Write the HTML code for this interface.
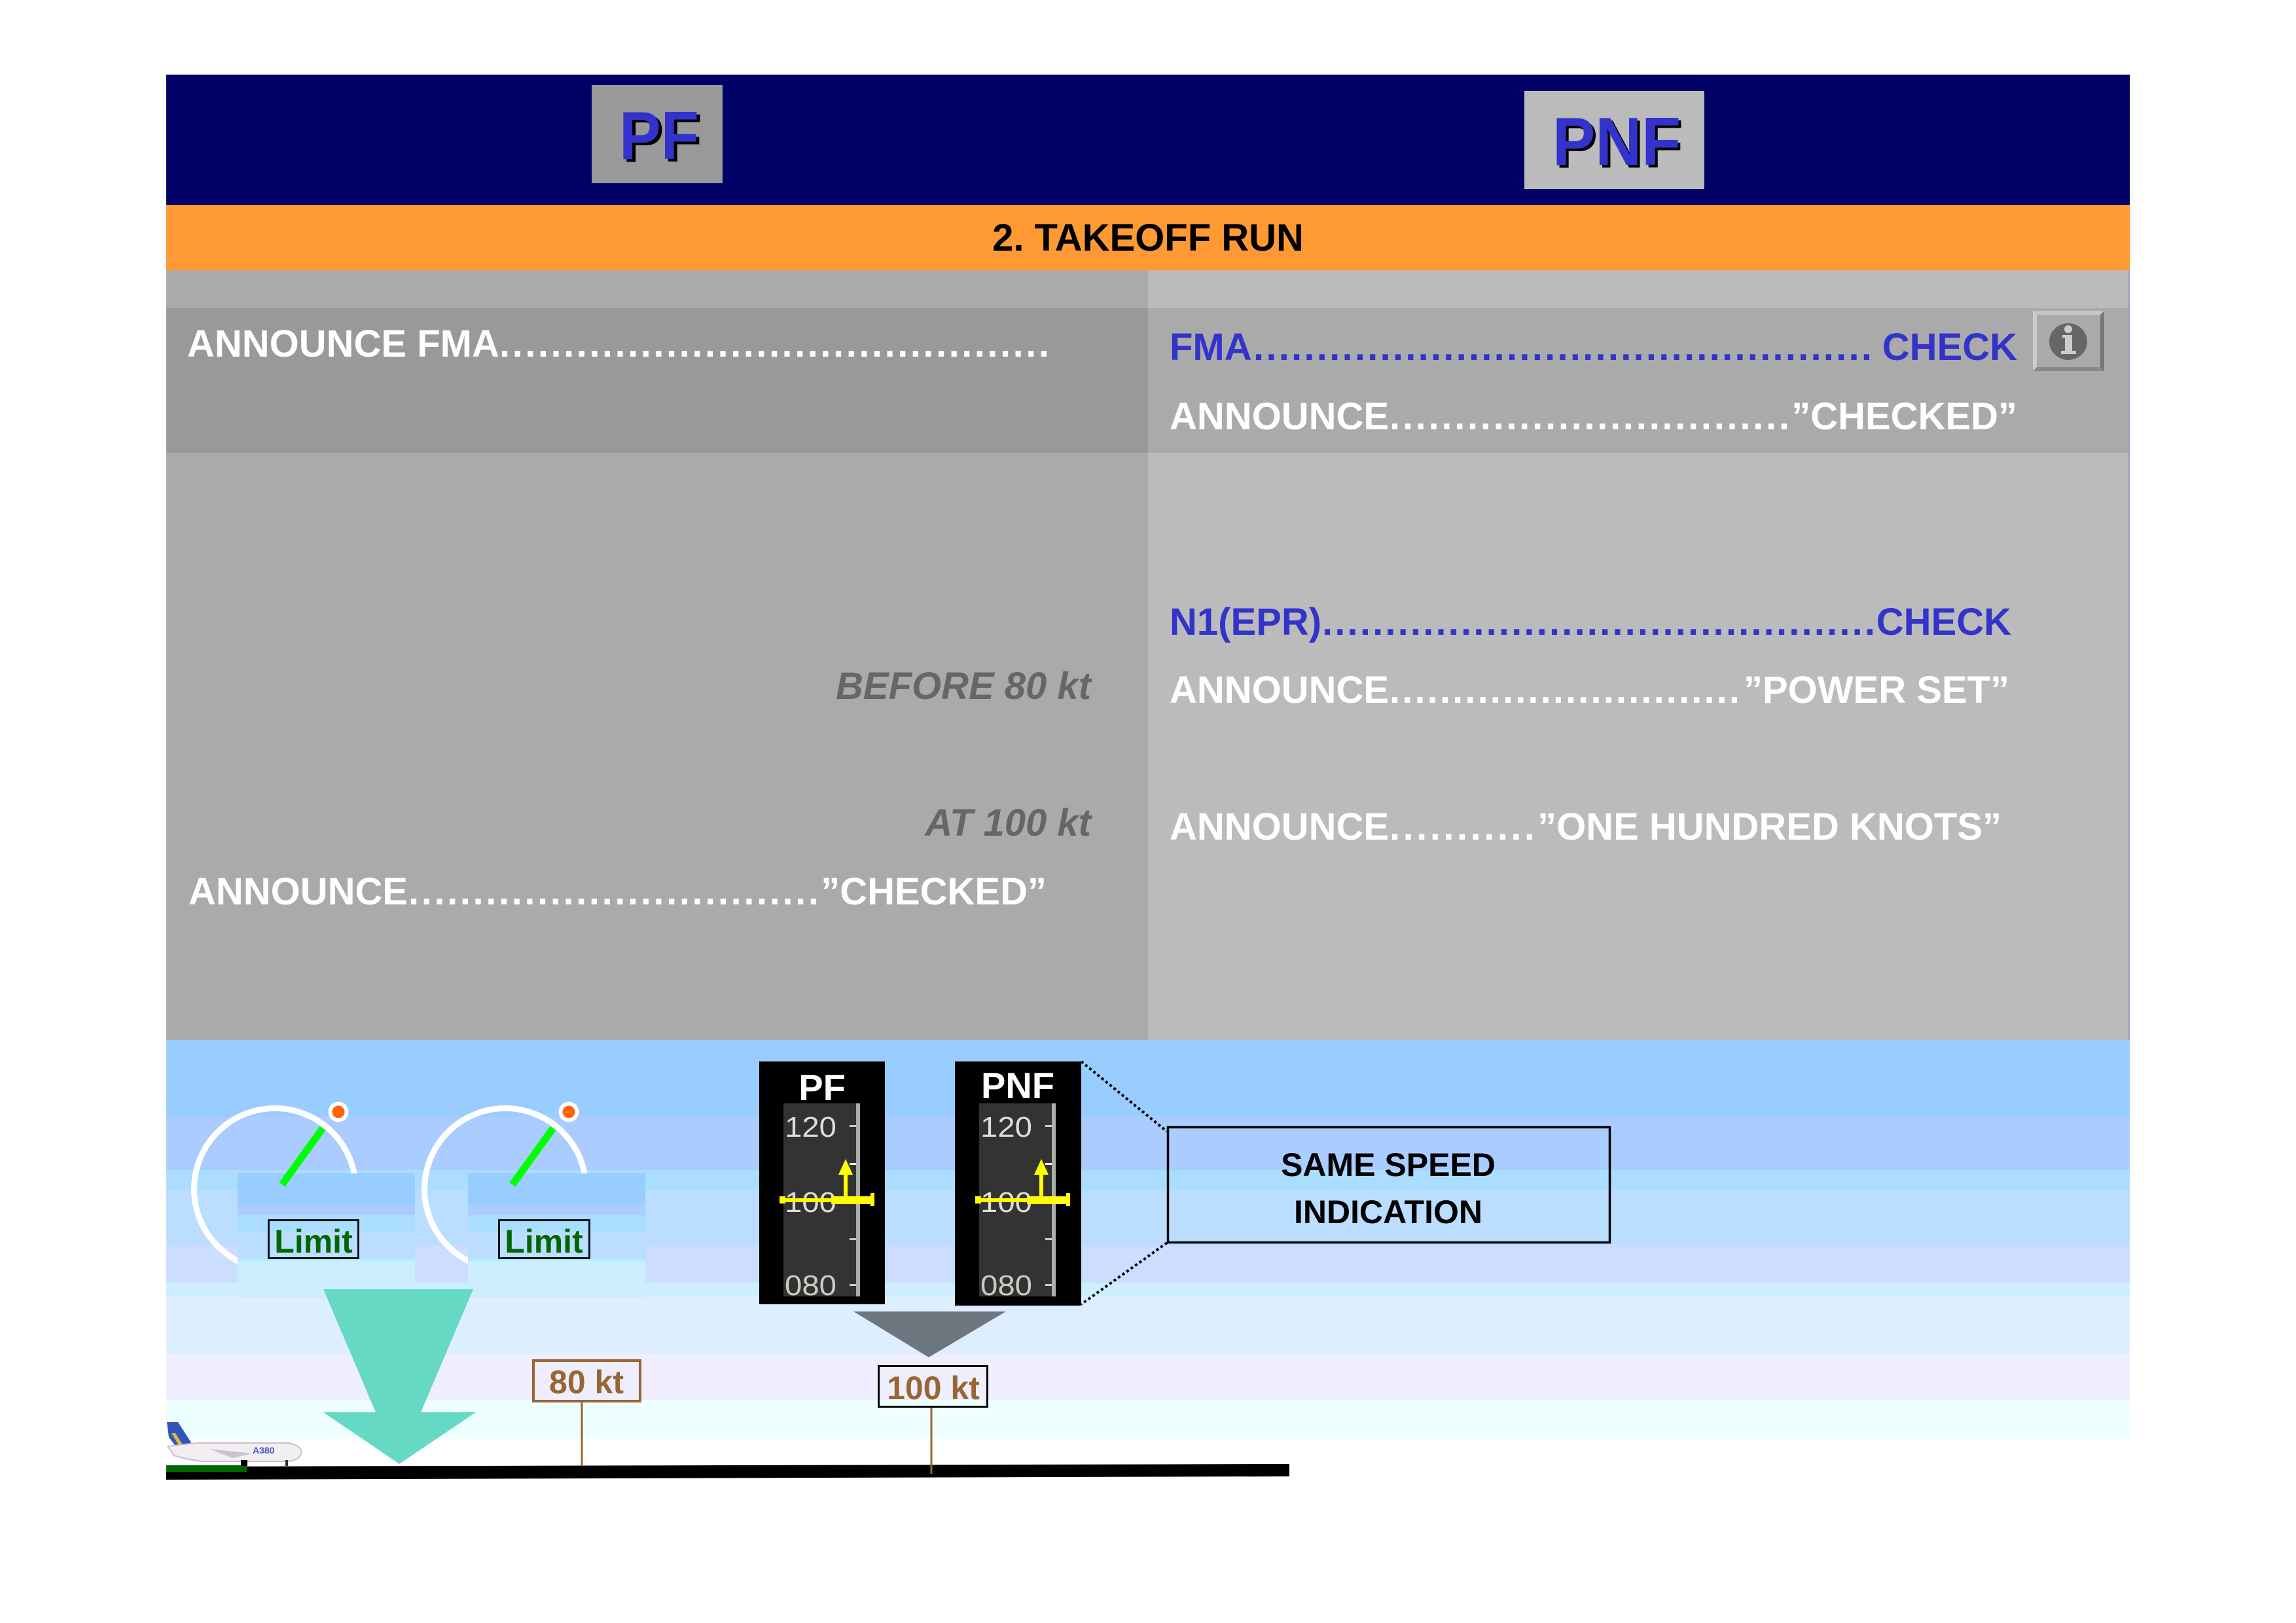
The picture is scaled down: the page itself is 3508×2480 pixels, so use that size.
<!DOCTYPE html>
<html>
<head>
<meta charset="utf-8">
<style>
  html, body { margin: 0; padding: 0; background: #ffffff; }
  body { width: 3508px; height: 2480px; overflow: hidden; }
  svg { display: block; }
  text { font-family: "Liberation Sans", Arial, sans-serif; }
</style>
</head>
<body>
<svg width="3508" height="2480" viewBox="0 0 3508 2480" xmlns="http://www.w3.org/2000/svg">
  <!-- background -->
  <rect x="0" y="0" width="3508" height="2480" fill="#ffffff"/>

  <!-- header navy -->
  <rect x="254" y="114" width="3000" height="199" fill="#000066"/>
  <!-- PF box -->
  <rect x="904" y="130" width="200" height="150" fill="#999999"/>
  <text x="951" y="247" font-size="104" font-weight="bold" fill="#000000" textLength="122" lengthAdjust="spacingAndGlyphs">PF</text>
  <text x="946" y="243" font-size="104" font-weight="bold" fill="#3333cc" textLength="122" lengthAdjust="spacingAndGlyphs">PF</text>
  <!-- PNF box -->
  <rect x="2329" y="139" width="275" height="150" fill="#bbbbbb"/>
  <text x="2376" y="256" font-size="104" font-weight="bold" fill="#000000" textLength="196" lengthAdjust="spacingAndGlyphs">PNF</text>
  <text x="2372" y="252" font-size="104" font-weight="bold" fill="#3333cc" textLength="196" lengthAdjust="spacingAndGlyphs">PNF</text>

  <!-- orange title band -->
  <rect x="254" y="313" width="3000" height="100" fill="#ff9933"/>
  <text x="1754" y="383" font-size="58" font-weight="bold" fill="#000000" text-anchor="middle">2. TAKEOFF RUN</text>

  <!-- gray panel -->
  <rect x="254" y="413" width="1500" height="1176" fill="#aaaaaa"/>
  <rect x="1754" y="413" width="1500" height="1176" fill="#bbbbbb"/>
  <rect x="254" y="471" width="1500" height="221" fill="#999999"/>
  <rect x="1754" y="471" width="1500" height="221" fill="#aaaaaa"/>
  <rect x="3252" y="413" width="2" height="1176" fill="#9999bb"/>

  <!-- LEFT column texts -->
  <text x="286" y="545" font-size="58" font-weight="bold" fill="#ffffff">ANNOUNCE FMA</text>
  <text x="763" y="545" font-size="58" font-weight="bold" fill="#ffffff" textLength="840" lengthAdjust="spacing">...........................................</text>

  <text x="1667" y="1068" font-size="58" font-weight="bold" font-style="italic" fill="#666666" text-anchor="end">BEFORE 80 kt</text>
  <text x="1667" y="1277" font-size="58" font-weight="bold" font-style="italic" fill="#666666" text-anchor="end">AT 100 kt</text>

  <text x="288" y="1382" font-size="58" font-weight="bold" fill="#ffffff">ANNOUNCE</text>
  <text x="624" y="1382" font-size="58" font-weight="bold" fill="#ffffff" textLength="627" lengthAdjust="spacing">................................</text>
  <text x="1599" y="1382" font-size="58" font-weight="bold" fill="#ffffff" text-anchor="end">”CHECKED”</text>

  <!-- RIGHT column texts -->
  <text x="1787" y="550" font-size="58" font-weight="bold" fill="#3333cc">FMA</text>
  <text x="1915" y="550" font-size="58" font-weight="bold" fill="#3333cc" textLength="945" lengthAdjust="spacing">.................................................</text>
  <text x="3082" y="550" font-size="58" font-weight="bold" fill="#3333cc" text-anchor="end">CHECK</text>

  <text x="1787" y="656" font-size="58" font-weight="bold" fill="#ffffff">ANNOUNCE</text>
  <text x="2123" y="656" font-size="58" font-weight="bold" fill="#ffffff" textLength="611" lengthAdjust="spacing">...............................</text>
  <text x="3082" y="656" font-size="58" font-weight="bold" fill="#ffffff" text-anchor="end">”CHECKED”</text>

  <!-- info button -->
  <rect x="3106" y="475" width="109" height="92" fill="#aaaaaa"/>
  <polygon points="3106,475 3215,475 3209,481 3112,481" fill="#c6c6c6"/>
  <polygon points="3106,475 3112,481 3112,561 3106,567" fill="#cccccc"/>
  <polygon points="3215,475 3215,567 3209,561 3209,481" fill="#777777"/>
  <polygon points="3106,567 3215,567 3209,561 3112,561" fill="#888888"/>
  <ellipse cx="3160" cy="522" rx="29" ry="28" fill="#666666"/>
  <circle cx="3160" cy="503" r="6" fill="#cccccc"/>
  <rect x="3155" y="512" width="11" height="26" fill="#cccccc"/>
  <rect x="3151" y="512" width="8" height="4" fill="#cccccc"/>
  <rect x="3149" y="536" width="23" height="5" fill="#cccccc"/>

  <text x="1787" y="970" font-size="58" font-weight="bold" fill="#3333cc">N1(EPR)</text>
  <text x="2020" y="970" font-size="58" font-weight="bold" fill="#3333cc" textLength="845" lengthAdjust="spacing">............................................</text>
  <text x="3073" y="970" font-size="58" font-weight="bold" fill="#3333cc" text-anchor="end">CHECK</text>

  <text x="1787" y="1074" font-size="58" font-weight="bold" fill="#ffffff">ANNOUNCE</text>
  <text x="2123" y="1074" font-size="58" font-weight="bold" fill="#ffffff" textLength="535" lengthAdjust="spacing">............................</text>
  <text x="3070" y="1074" font-size="58" font-weight="bold" fill="#ffffff" text-anchor="end">”POWER SET”</text>

  <text x="1787" y="1283" font-size="58" font-weight="bold" fill="#ffffff">ANNOUNCE</text>
  <text x="2123" y="1283" font-size="58" font-weight="bold" fill="#ffffff" textLength="222" lengthAdjust="spacing">...........</text>
  <text x="3058" y="1283" font-size="58" font-weight="bold" fill="#ffffff" text-anchor="end">”ONE HUNDRED KNOTS”</text>

  <!-- SKY bands -->
  <rect x="254" y="1589" width="3000" height="117" fill="#99ccff"/>
  <rect x="254" y="1706" width="3000" height="82" fill="#aaccff"/>
  <rect x="254" y="1788" width="3000" height="30" fill="#aaddff"/>
  <rect x="254" y="1818" width="3000" height="85" fill="#bbddff"/>
  <rect x="254" y="1903" width="3000" height="57" fill="#ccddff"/>
  <rect x="254" y="1960" width="3000" height="21" fill="#cceeff"/>
  <rect x="254" y="1981" width="3000" height="88" fill="#ddeeff"/>
  <rect x="254" y="2069" width="3000" height="70" fill="#eeeeff"/>
  <rect x="254" y="2139" width="3000" height="59" fill="#eeffff"/>

  <!-- GAUGE 1 -->
  <circle cx="420" cy="1817" r="123.5" fill="none" stroke="#ffffff" stroke-width="9"/>
  <circle cx="517" cy="1699" r="15.5" fill="#ffffff"/>
  <circle cx="517" cy="1699" r="9.5" fill="#ff6600"/>
  <g>
    <rect x="363" y="1793" width="271" height="48" fill="#99ccff"/>
    <rect x="363" y="1841" width="271" height="16" fill="#aaccff"/>
    <rect x="363" y="1857" width="271" height="26" fill="#aaddff"/>
    <rect x="363" y="1883" width="271" height="40" fill="#bbddff"/>
    <rect x="363" y="1923" width="271" height="4" fill="#aaeeff"/>
    <rect x="363" y="1927" width="271" height="56" fill="#cceeff"/>
  </g>
  <line x1="431" y1="1810" x2="493" y2="1724" stroke="#00ff00" stroke-width="11"/>
  <rect x="410.5" y="1864.5" width="137" height="58" fill="none" stroke="#111111" stroke-width="3"/>
  <text x="479" y="1914" font-size="50" font-weight="bold" fill="#006600" text-anchor="middle">Limit</text>

  <!-- GAUGE 2 -->
  <circle cx="772" cy="1817" r="123.5" fill="none" stroke="#ffffff" stroke-width="9"/>
  <circle cx="869" cy="1699" r="15.5" fill="#ffffff"/>
  <circle cx="869" cy="1699" r="9.5" fill="#ff6600"/>
  <g>
    <rect x="715" y="1793" width="271" height="48" fill="#99ccff"/>
    <rect x="715" y="1841" width="271" height="16" fill="#aaccff"/>
    <rect x="715" y="1857" width="271" height="26" fill="#aaddff"/>
    <rect x="715" y="1883" width="271" height="40" fill="#bbddff"/>
    <rect x="715" y="1923" width="271" height="4" fill="#aaeeff"/>
    <rect x="715" y="1927" width="271" height="56" fill="#cceeff"/>
  </g>
  <line x1="783" y1="1810" x2="845" y2="1724" stroke="#00ff00" stroke-width="11"/>
  <rect x="762.5" y="1864.5" width="138" height="58" fill="none" stroke="#111111" stroke-width="3"/>
  <text x="831" y="1914" font-size="50" font-weight="bold" fill="#006600" text-anchor="middle">Limit</text>

  <!-- teal arrow -->
  <polygon points="494,1970 723,1970 643,2158 727,2158 610,2237 494,2158 574,2158" fill="#66d9c4"/>

  <!-- PF display -->
  <rect x="1160" y="1622" width="192" height="371" fill="#000000"/>
  <text x="1256" y="1681" font-size="56" font-weight="bold" fill="#ffffff" text-anchor="middle">PF</text>
  <rect x="1197" y="1686" width="117" height="295" fill="#333333"/>
  <rect x="1308" y="1686" width="6" height="295" fill="#a8b0a8"/>
  <rect x="1298" y="1719" width="10" height="3" fill="#cccccc"/>
  <rect x="1298" y="1777" width="10" height="3" fill="#eeeeee"/>
  <rect x="1298" y="1892" width="10" height="3" fill="#cccccc"/>
  <rect x="1298" y="1962" width="10" height="3" fill="#cccccc"/>
  <text x="1199" y="1737" font-size="44" fill="#dadfd6" textLength="79" lengthAdjust="spacingAndGlyphs">120</text>
  <text x="1199" y="1852" font-size="44" fill="#dadfd6" textLength="79" lengthAdjust="spacingAndGlyphs">100</text>
  <text x="1199" y="1979" font-size="44" fill="#c8cdc4" textLength="79" lengthAdjust="spacingAndGlyphs">080</text>
  <g fill="#ffff00">
    <rect x="1191" y="1831" width="144" height="6"/>
    <rect x="1191" y="1828" width="9" height="11"/>
    <rect x="1270" y="1828" width="62" height="12"/>
    <rect x="1330" y="1823" width="6" height="20"/>
    <rect x="1289" y="1780" width="6" height="54"/>
    <polygon points="1292,1771 1281,1795 1303,1795"/>
  </g>

  <!-- PNF display -->
  <rect x="1459" y="1622" width="193" height="373" fill="#000000"/>
  <text x="1555" y="1678" font-size="56" font-weight="bold" fill="#ffffff" text-anchor="middle">PNF</text>
  <rect x="1496" y="1686" width="117" height="295" fill="#333333"/>
  <rect x="1607" y="1686" width="6" height="295" fill="#a8b0a8"/>
  <rect x="1597" y="1719" width="10" height="3" fill="#cccccc"/>
  <rect x="1597" y="1777" width="10" height="3" fill="#eeeeee"/>
  <rect x="1597" y="1892" width="10" height="3" fill="#cccccc"/>
  <rect x="1597" y="1962" width="10" height="3" fill="#cccccc"/>
  <text x="1498" y="1737" font-size="44" fill="#dadfd6" textLength="79" lengthAdjust="spacingAndGlyphs">120</text>
  <text x="1498" y="1852" font-size="44" fill="#dadfd6" textLength="79" lengthAdjust="spacingAndGlyphs">100</text>
  <text x="1498" y="1979" font-size="44" fill="#c8cdc4" textLength="79" lengthAdjust="spacingAndGlyphs">080</text>
  <g fill="#ffff00">
    <rect x="1490" y="1831" width="144" height="6"/>
    <rect x="1490" y="1828" width="9" height="11"/>
    <rect x="1569" y="1828" width="62" height="12"/>
    <rect x="1629" y="1823" width="6" height="20"/>
    <rect x="1588" y="1780" width="6" height="54"/>
    <polygon points="1591,1771 1580,1795 1602,1795"/>
  </g>

  <!-- dotted connectors -->
  <line x1="1652" y1="1622" x2="1783" y2="1729" stroke="#000000" stroke-width="4" stroke-dasharray="4 4"/>
  <line x1="1783" y1="1899" x2="1652" y2="1993" stroke="#000000" stroke-width="4" stroke-dasharray="4 4"/>

  <!-- SAME SPEED box -->
  <rect x="1784.5" y="1722.5" width="675" height="176" fill="none" stroke="#000000" stroke-width="3.5"/>
  <text x="2121" y="1797" font-size="50" font-weight="bold" fill="#000000" text-anchor="middle">SAME SPEED</text>
  <text x="2121" y="1869" font-size="50" font-weight="bold" fill="#000000" text-anchor="middle">INDICATION</text>

  <!-- gray triangle -->
  <polygon points="1304,2004 1537,2004 1419,2074" fill="#6e767f"/>

  <!-- runway -->
  <polygon points="254,2241 1970,2237 1970,2256 254,2261" fill="#000000"/>
  <rect x="254" y="2239" width="123" height="10" fill="#006600"/>

  <!-- 80 kt sign -->
  <line x1="889" y1="2143" x2="889" y2="2240" stroke="#996633" stroke-width="3"/>
  <rect x="815" y="2079" width="163" height="62" fill="none" stroke="#996633" stroke-width="4"/>
  <text x="896" y="2129" font-size="50" font-weight="bold" fill="#996633" text-anchor="middle">80 kt</text>

  <!-- 100 kt sign -->
  <line x1="1423" y1="2151" x2="1423" y2="2252" stroke="#996633" stroke-width="3"/>
  <rect x="1342.5" y="2087.5" width="166" height="62" fill="none" stroke="#000000" stroke-width="3"/>
  <text x="1426" y="2138" font-size="50" font-weight="bold" fill="#996633" text-anchor="middle">100 kt</text>

  <!-- airplane -->
  <g>
    <polygon points="255,2173 272,2173 306,2226 282,2228 258,2196" fill="#3355bb"/>
    <polygon points="262,2190 268,2190 292,2228 285,2228" fill="#ddbb33"/>
    <path d="M256,2210 L300,2205 L440,2205 Q459,2208 461,2219 Q459,2231 440,2233 L310,2233 Q288,2231 266,2224 Z" fill="#f2eef2"/>
    <path d="M256,2210 L300,2205 L440,2205 Q459,2208 461,2219 Q459,2231 440,2233 L310,2233 Q288,2231 266,2224 Z" fill="none" stroke="#c8c0cc" stroke-width="2"/>
    <path d="M320,2214 L385,2221 L355,2228 Z" fill="#ccc4cc"/>
    <text x="386" y="2221" font-size="14" font-weight="bold" fill="#4455cc">A380</text>
    <rect x="368" y="2231" width="10" height="9" fill="#000000"/>
    <rect x="436" y="2231" width="4" height="9" fill="#333333"/>
  </g>
</svg>
</body>
</html>
